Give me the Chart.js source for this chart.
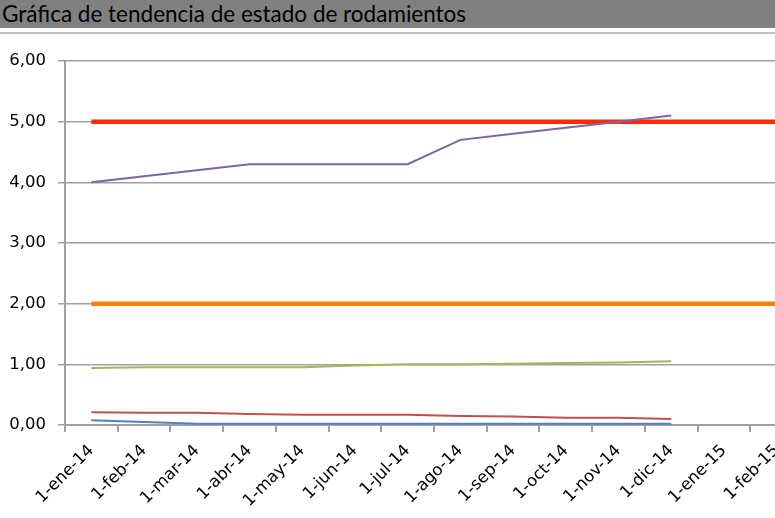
<!DOCTYPE html>
<html>
<head>
<meta charset="utf-8">
<script src="https://cdn.jsdelivr.net/npm/chart.js@4"></script>
<style>
  html, body { margin: 0; padding: 0; overflow: hidden; background: #fff; }
  body { width: 775px; height: 518px; position: relative; }
  .title-bar {
    position: absolute; left: 0; top: 0; width: 775px; height: 28px;
    background: #808080; color: #000;
    font-family: Lato, "Open Sans", sans-serif; font-size: 22.5px;
    line-height: 28px; padding-left: 2px; box-sizing: border-box;
  }
  .frame-line {
    position: absolute; left: 0; top: 32px; width: 775px; height: 0;
    border-top: 2px solid #c0c0c0;
  }
  .chart-box { position: absolute; left: 0; top: 34px; width: 805px; height: 484px; }
</style>
</head>
<body>
<div class="title-bar">Gráfica de tendencia de estado de rodamientos</div>
<div class="frame-line"></div>
<div class="chart-box"><canvas id="trendChart"></canvas></div>
<script>
// Month labels of the date axis
const months = ['1-ene-14', '1-feb-14', '1-mar-14', '1-abr-14', '1-may-14', '1-jun-14', '1-jul-14',
  '1-ago-14', '1-sep-14', '1-oct-14', '1-nov-14', '1-dic-14', '1-ene-15', '1-feb-15'];

// Measured series (Jan-Dec 2014)
const seriesPurple = [4.00, 4.10, 4.20, 4.30, 4.30, 4.30, 4.30, 4.70, 4.80, 4.90, 5.00, 5.10];
const seriesGreen  = [0.94, 0.95, 0.95, 0.95, 0.95, 0.98, 1.00, 1.00, 1.01, 1.02, 1.03, 1.05];
const seriesRed    = [0.21, 0.20, 0.20, 0.18, 0.17, 0.17, 0.17, 0.15, 0.14, 0.12, 0.12, 0.10];
const seriesBlue   = [0.08, 0.05, 0.02, 0.02, 0.02, 0.02, 0.02, 0.02, 0.02, 0.02, 0.02, 0.02];

// Threshold lines
const limitAlarm = [5, 5, 5, 5, 5, 5, 5, 5, 5, 5, 5, 5, 5, 5];
const limitAlert = [2, 2, 2, 2, 2, 2, 2, 2, 2, 2, 2, 2, 2, 2];

const yTicks = [0, 1, 2, 3, 4, 5, 6];

document.addEventListener('DOMContentLoaded', () => {
  const ctx = document.getElementById('trendChart').getContext('2d');

  const line = (label, data, color, width, order) => ({
    label, data,
    borderColor: color,
    backgroundColor: color,
    borderWidth: width,
    pointRadius: 0,
    tension: 0,
    fill: false,
    order
  });

  new Chart(ctx, {
    type: 'line',
    data: {
      labels: months,
      datasets: [
        line('Límite alarma', limitAlarm, '#ff2a00', 4.5, 5),
        line('Límite alerta', limitAlert, '#ff8000', 4.5, 5),
        line('Serie 4', seriesPurple, '#8064a2', 2, 1),
        line('Serie 3', seriesGreen, '#9bbb59', 2, 2),
        line('Serie 2', seriesRed, '#c0504d', 2, 3),
        line('Serie 1', seriesBlue, '#4f81bd', 2, 4)
      ]
    },
    options: {
      responsive: true,
      maintainAspectRatio: false,
      animation: false,
      layout: { padding: { top: 27, right: 2, left: 0, bottom: 0 } },
      plugins: {
        legend: { display: false },
        tooltip: { enabled: false }
      },
      scales: {
        x: {
          offset: true,
          grid: {
            offset: true,
            drawOnChartArea: false,
            drawTicks: true,
            tickLength: 7,
            color: '#a0a0a0',
            lineWidth: 2
          },
          border: { color: '#a0a0a0', width: 2 },
          ticks: {
            autoSkip: false,
            minRotation: 45,
            maxRotation: 45,
            padding: 9,
            color: '#000',
            font: { family: 'DejaVu Sans', size: 16.5 }
          },
          afterFit: s => { s.height = 93; }
        },
        y: {
          min: 0,
          max: 6,
          afterBuildTicks: s => { s.ticks = yTicks.map(v => ({ value: v })); },
          grid: {
            color: '#a0a0a0',
            lineWidth: 1.5,
            tickLength: 7
          },
          border: { color: '#a0a0a0', width: 2 },
          ticks: {
            padding: 12,
            color: '#000',
            font: { family: 'DejaVu Sans', size: 16.5 },
            callback: v => v.toFixed(2).replace('.', ',')
          },
          afterFit: s => { s.width = 65; }
        }
      }
    }
  });
});
</script>
</body>
</html>
